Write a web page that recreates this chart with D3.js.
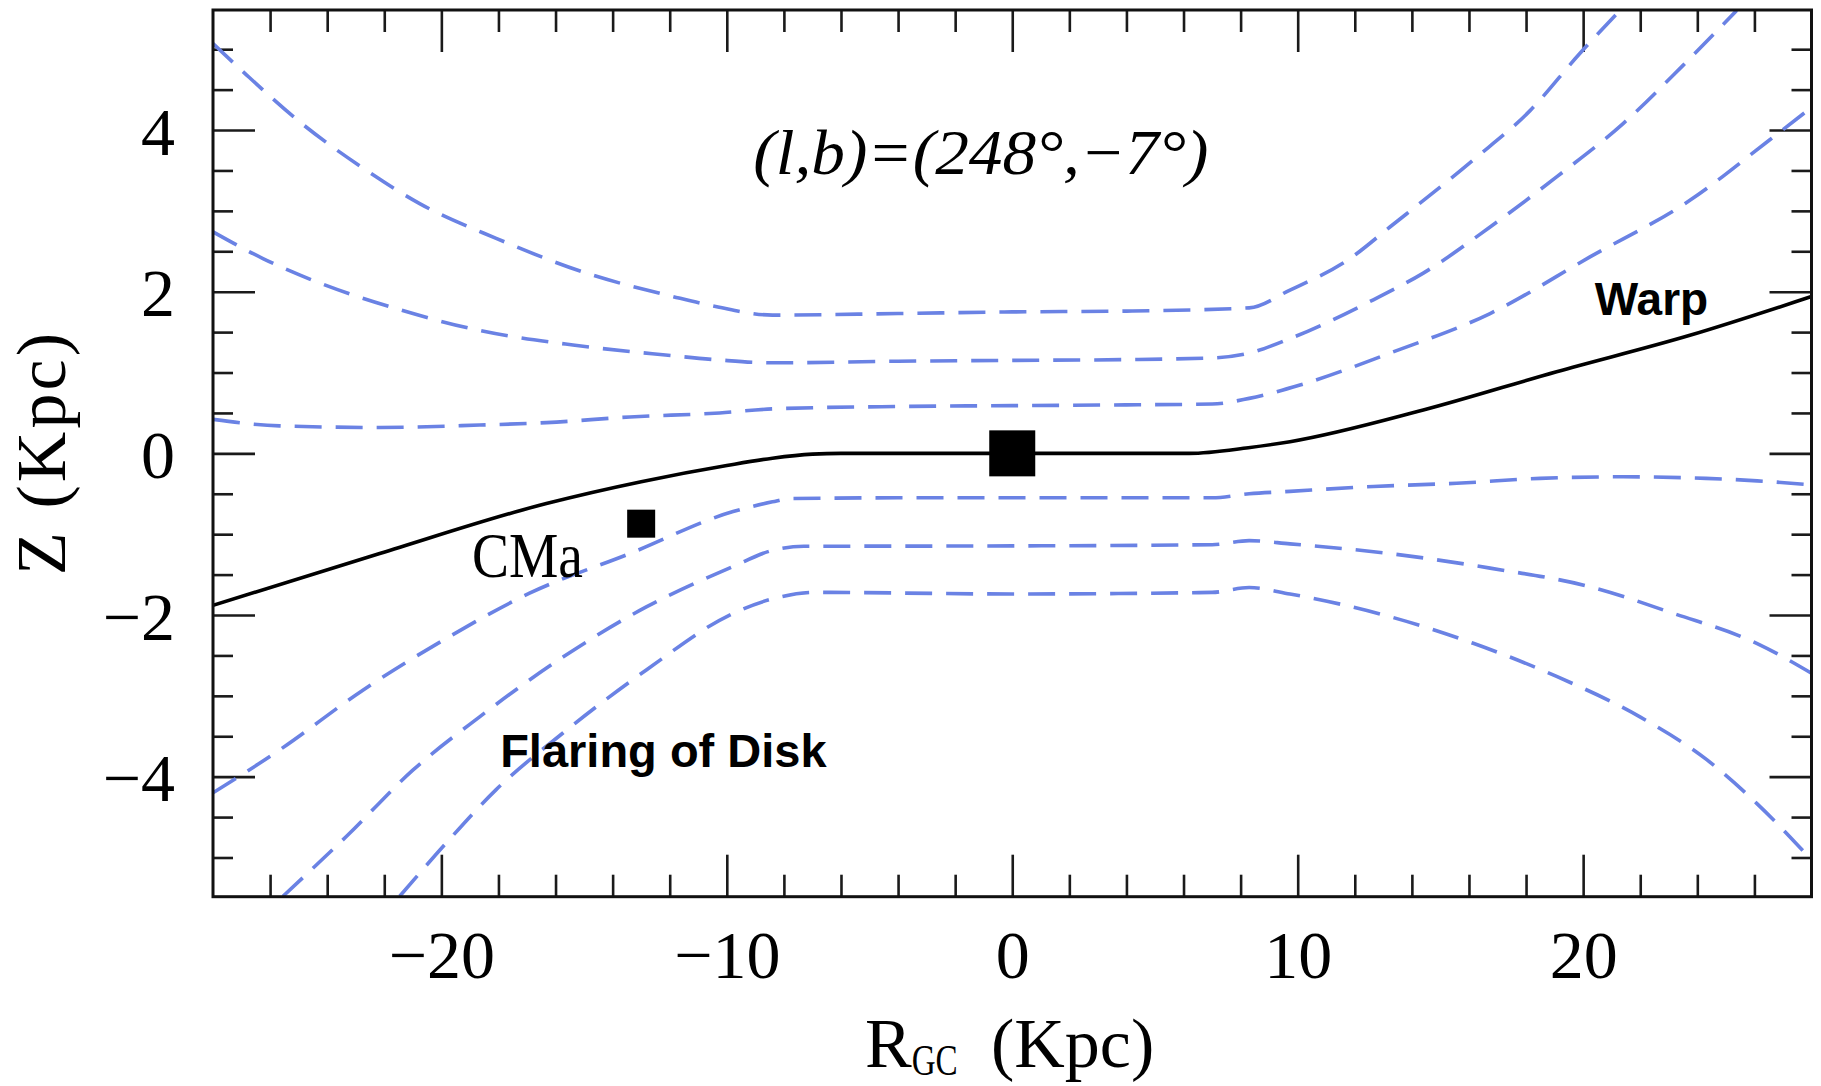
<!DOCTYPE html>
<html>
<head>
<meta charset="utf-8">
<script src="https://cdn.jsdelivr.net/npm/d3@7"></script>
<style>
  html, body { margin: 0; padding: 0; background: #fff; }
  svg { display: block; }
</style>
</head>
<body>
<svg id="chart" width="1821" height="1086"></svg>
<script>
// ---------------- data ----------------
const xTicksMajor = [-20, -10, 0, 10, 20];
const yTicksMajor = [4, 2, 0, -2, -4];

// warp (solid black)
const warpR = [-28, -22.16, -16.32, -13, -10, -8.4, -7, -6, 0, 6.2, 8.27, 9.73, 14.4, 19.07, 23.74, 28];
const warpZ = [-1.88, -1.24, -0.62, -0.35, -0.15, -0.06, -0.01, 0, 0, 0, 0.07, 0.144, 0.536, 1.01, 1.46, 1.94];

// flaring envelopes (blue dashed), upper three
const flareA_R = [-28, -26.82, -24.96, -22.75, -20.76, -18.08, -14.92, -11.89, -10.31, -8.4, -4, 0, 4, 8.3, 9.73, 11.83, 13.23, 16.15, 18.14, 19.89, 21.29];
const flareA_Z = [5.07, 4.68, 4.10, 3.53, 3.09, 2.66, 2.23, 1.94, 1.81, 1.71, 1.73, 1.75, 1.76, 1.80, 2.02, 2.41, 2.80, 3.63, 4.24, 4.95, 5.48];

const flareB_R = [-28, -26.25, -24.5, -21.58, -18.66, -15.39, -12.24, -10.25, -8.4, -4, 0, 4, 7, 8.3, 9.73, 12.65, 14.4, 16.74, 19.07, 21.4, 23.5, 25.38];
const flareB_Z = [2.74, 2.41, 2.14, 1.79, 1.52, 1.34, 1.22, 1.155, 1.12, 1.14, 1.15, 1.16, 1.18, 1.24, 1.42, 1.90, 2.23, 2.80, 3.42, 4.08, 4.80, 5.48];

const flareC_R = [-28, -25.67, -22.16, -18.66, -16.32, -13.4, -10.25, -8.4, -4, 0, 4, 7, 8.3, 10.08, 13.23, 16.74, 20.24, 23.74, 26.54, 28];
const flareC_Z = [0.42, 0.34, 0.32, 0.35, 0.38, 0.45, 0.50, 0.55, 0.58, 0.59, 0.60, 0.61, 0.68, 0.845, 1.24, 1.73, 2.43, 3.13, 3.88, 4.28];

// lower three
const flareD_R = [-28, -25.67, -22.75, -19.83, -16.91, -13.4, -9.78, -8.4, -7.8, -4, 0, 4, 7, 8.3, 9.73, 12.65, 15.57, 18.49, 21.4, 24.3, 26.1, 28];
const flareD_Z = [-4.2, -3.67, -2.93, -2.29, -1.73, -1.24, -0.72, -0.60, -0.56, -0.55, -0.55, -0.55, -0.55, -0.50, -0.47, -0.41, -0.37, -0.31, -0.29, -0.31, -0.34, -0.39];

const flareE_R = [-25.55, -23.33, -21.0, -18.66, -15.74, -12.82, -9.78, -8.4, -7.3, 0, 7, 8.3, 9.73, 13.23, 16.74, 20.24, 23.16, 26.08, 28];
const flareE_Z = [-5.48, -4.74, -3.92, -3.26, -2.52, -1.90, -1.40, -1.20, -1.15, -1.145, -1.13, -1.08, -1.12, -1.24, -1.42, -1.65, -1.98, -2.35, -2.72];

const flareF_R = [-21.46, -19.83, -18.08, -15.74, -12.82, -9.78, -8.4, -6.9, 0, 7, 8.3, 9.73, 13.23, 16.15, 19.07, 21.99, 24.33, 26.08, 28];
const flareF_Z = [-5.48, -4.82, -4.16, -3.46, -2.68, -1.98, -1.80, -1.72, -1.74, -1.72, -1.66, -1.74, -2.02, -2.35, -2.76, -3.26, -3.79, -4.33, -5.03];

// markers: Galactic position and CMa
const markerR = [0, -13];
const markerZ = [0, -0.87];

// annotations
const titleText = "(l,b)=(248°,\u22127°)";
const annotWarp = "Warp";
const annotFlare = "Flaring of Disk";
const annotCMa = "CMa";

// ---------------- layout ----------------
const svg = d3.select("#chart");
const X0 = 213, X1 = 1811.5, Y0 = 10, Y1 = 896.7;
const x = d3.scaleLinear().domain([-28, 28]).range([X0, X1]);
const y = d3.scaleLinear().domain([-5.485, 5.485]).range([Y1, Y0]);

const serif = "'Liberation Serif', 'Times New Roman', serif";
const sans = "'Liberation Sans', Arial, Helvetica, sans-serif";
const blue = "#6a82e4";

svg.append("defs").append("clipPath").attr("id", "plotclip")
  .append("rect").attr("x", X0).attr("y", Y0).attr("width", X1 - X0).attr("height", Y1 - Y0);

// ---------------- axes (ticks inward on all sides) ----------------
const fmt = d => d < 0 ? "\u2212" + Math.abs(d) : String(d);
const xMinor = d3.range(-26, 28, 2).filter(v => v % 10 !== 0);
const yMinor = d3.range(-5, 5.01, 0.5).filter(v => Math.abs(v % 2) > 1e-9);

function styleAxis(g) {
  g.select(".domain").remove();
  g.selectAll(".tick line").attr("stroke", "#1a1a1a").attr("stroke-width", 2.6);
}

// bottom
svg.append("g").attr("transform", `translate(0,${Y1})`)
  .call(d3.axisBottom(x).tickValues(xTicksMajor).tickSize(-42).tickSizeOuter(0).tickFormat(fmt))
  .call(styleAxis)
  .call(g => g.selectAll("text").attr("dy", null).attr("y", 81)
    .attr("font-family", serif).attr("font-size", 68).attr("fill", "#000"));
svg.append("g").attr("transform", `translate(0,${Y1})`)
  .call(d3.axisBottom(x).tickValues(xMinor).tickSize(-22).tickSizeOuter(0).tickFormat(""))
  .call(styleAxis);
// top
svg.append("g").attr("transform", `translate(0,${Y0})`)
  .call(d3.axisTop(x).tickValues(xTicksMajor).tickSize(-42).tickSizeOuter(0).tickFormat(""))
  .call(styleAxis);
svg.append("g").attr("transform", `translate(0,${Y0})`)
  .call(d3.axisTop(x).tickValues(xMinor).tickSize(-22).tickSizeOuter(0).tickFormat(""))
  .call(styleAxis);
// left
svg.append("g").attr("transform", `translate(${X0},0)`)
  .call(d3.axisLeft(y).tickValues(yTicksMajor).tickSize(-42).tickSizeOuter(0).tickFormat(fmt))
  .call(styleAxis)
  .call(g => g.selectAll("text").attr("x", -38).attr("dy", 24)
    .attr("font-family", serif).attr("font-size", 68).attr("fill", "#000"));
svg.append("g").attr("transform", `translate(${X0},0)`)
  .call(d3.axisLeft(y).tickValues(yMinor).tickSize(-20).tickSizeOuter(0).tickFormat(""))
  .call(styleAxis);
// right
svg.append("g").attr("transform", `translate(${X1},0)`)
  .call(d3.axisRight(y).tickValues(yTicksMajor).tickSize(-42).tickSizeOuter(0).tickFormat(""))
  .call(styleAxis);
svg.append("g").attr("transform", `translate(${X1},0)`)
  .call(d3.axisRight(y).tickValues(yMinor).tickSize(-20).tickSizeOuter(0).tickFormat(""))
  .call(styleAxis);

// ---------------- curves ----------------
const plot = svg.append("g").attr("clip-path", "url(#plotclip)");
const line = d3.line().x(d => x(d[0])).y(d => y(d[1])).curve(d3.curveMonotoneX);
const zip = (a, b) => a.map((v, i) => [v, b[i]]);

const flares = [
  zip(flareA_R, flareA_Z), zip(flareB_R, flareB_Z), zip(flareC_R, flareC_Z),
  zip(flareD_R, flareD_Z), zip(flareE_R, flareE_Z), zip(flareF_R, flareF_Z)
];
plot.selectAll("path.flare").data(flares).join("path")
  .attr("class", "flare")
  .attr("d", line)
  .attr("fill", "none")
  .attr("stroke", blue)
  .attr("stroke-width", 3.6)
  .attr("stroke-dasharray", "27,14");

plot.append("path")
  .datum(zip(warpR, warpZ))
  .attr("d", line)
  .attr("fill", "none")
  .attr("stroke", "#000")
  .attr("stroke-width", 3.6);

// markers
const markerSizes = [46, 28];
plot.selectAll("rect.marker").data(markerR.map((r, i) => ({ r, z: markerZ[i], s: markerSizes[i] })))
  .join("rect").attr("class", "marker")
  .attr("x", d => x(d.r) - d.s / 2)
  .attr("y", d => y(d.z) - d.s / 2)
  .attr("width", d => d.s).attr("height", d => d.s)
  .attr("fill", "#000");

// frame
svg.append("rect").attr("x", X0).attr("y", Y0).attr("width", X1 - X0).attr("height", Y1 - Y0)
  .attr("fill", "none").attr("stroke", "#111").attr("stroke-width", 3);

// ---------------- text ----------------
svg.append("text")
  .attr("x", x(-1.1)).attr("y", y(3.46))
  .attr("text-anchor", "middle")
  .attr("font-family", serif).attr("font-style", "italic").attr("font-size", 64)
  .attr("textLength", 455).attr("lengthAdjust", "spacingAndGlyphs")
  .text(titleText);

svg.append("text")
  .attr("x", x(20.41)).attr("y", y(1.71))
  .attr("font-family", sans).attr("font-weight", "bold").attr("font-size", 46)
  .text(annotWarp);

svg.append("text")
  .attr("x", x(-17.94)).attr("y", y(-3.88))
  .attr("font-family", sans).attr("font-weight", "bold").attr("font-size", 47)
  .text(annotFlare);

svg.append("text")
  .attr("x", x(-18.93)).attr("y", y(-1.53))
  .attr("font-family", serif).attr("font-size", 63)
  .attr("textLength", 111).attr("lengthAdjust", "spacingAndGlyphs")
  .text(annotCMa);

// x axis title: R_GC (Kpc)
const xt = svg.append("text")
  .attr("x", 865).attr("y", 1067)
  .attr("font-family", serif).attr("font-size", 70).attr("fill", "#000");
xt.append("tspan").text("R");
xt.append("tspan").attr("font-size", 44).attr("dy", 8)
  .attr("textLength", 46).attr("lengthAdjust", "spacingAndGlyphs").text("GC");
xt.append("tspan").attr("x", 991).attr("dy", -8).text("(Kpc)");

// y axis title: Z (Kpc)
svg.append("text")
  .attr("transform", "translate(65,575) rotate(-90)")
  .attr("font-family", serif).attr("font-size", 70).attr("fill", "#000")
  .attr("textLength", 242).attr("lengthAdjust", "spacing")
  .text("Z (Kpc)");
</script>
</body>
</html>
